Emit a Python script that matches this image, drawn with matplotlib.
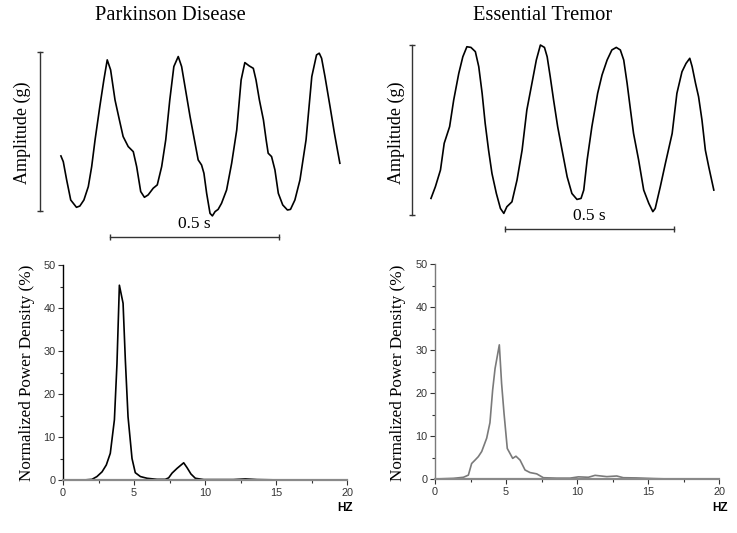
import matplotlib.pyplot as plt
from matplotlib.ticker import MultipleLocator

# tremor traces (time in s, amplitude normalised to the scale bar)
pd_t = [0.000, 0.007, 0.017, 0.029, 0.046, 0.056, 0.068, 0.081, 0.091, 0.101,
        0.115, 0.127, 0.137, 0.147, 0.160, 0.173, 0.184, 0.199, 0.214, 0.224,
        0.236, 0.247, 0.258, 0.273, 0.285, 0.298, 0.310, 0.322, 0.334, 0.347,
        0.357, 0.367, 0.382, 0.393, 0.406, 0.416, 0.423, 0.431, 0.441, 0.448,
        0.456, 0.465, 0.475, 0.490, 0.505, 0.520, 0.533, 0.544, 0.557, 0.569,
        0.577, 0.587, 0.599, 0.607, 0.613, 0.623, 0.633, 0.643, 0.656, 0.670,
        0.679, 0.692, 0.707, 0.725, 0.742, 0.756, 0.764, 0.771, 0.781, 0.796,
        0.809, 0.816, 0.825]
pd_amp = [0.346, 0.310, 0.195, 0.069, 0.023, 0.031, 0.069, 0.153, 0.279, 0.447,
          0.656, 0.824, 0.950, 0.887, 0.698, 0.572, 0.468, 0.405, 0.373, 0.279,
          0.122, 0.086, 0.101, 0.143, 0.164, 0.279, 0.447, 0.698, 0.908, 0.971,
          0.908, 0.782, 0.593, 0.468, 0.321, 0.289, 0.237, 0.111, -0.015, -0.031,
          -0.004, 0.010, 0.048, 0.132, 0.300, 0.509, 0.824, 0.933, 0.912, 0.897,
          0.824, 0.698, 0.572, 0.447, 0.363, 0.342, 0.258, 0.111, 0.038, 0.006,
          0.010, 0.069, 0.195, 0.447, 0.845, 0.981, 0.992, 0.960, 0.845, 0.656,
          0.488, 0.405, 0.300]

et_t = [0.000, 0.013, 0.028, 0.039, 0.055, 0.067, 0.082, 0.094, 0.106, 0.118,
        0.131, 0.141, 0.151, 0.160, 0.170, 0.180, 0.193, 0.205, 0.215, 0.224,
        0.239, 0.254, 0.269, 0.283, 0.298, 0.311, 0.323, 0.335, 0.343, 0.352,
        0.362, 0.374, 0.387, 0.402, 0.416, 0.431, 0.443, 0.451, 0.461, 0.475,
        0.492, 0.505, 0.520, 0.534, 0.547, 0.559, 0.569, 0.579, 0.589, 0.598,
        0.613, 0.628, 0.643, 0.655, 0.662, 0.677, 0.692, 0.712, 0.726, 0.741,
        0.753, 0.764, 0.771, 0.781, 0.790, 0.800, 0.810, 0.820, 0.835]
et_amp = [0.098, 0.167, 0.265, 0.422, 0.520, 0.676, 0.833, 0.931, 0.990, 0.986,
          0.961, 0.873, 0.716, 0.539, 0.382, 0.245, 0.127, 0.039, 0.010, 0.049,
          0.078, 0.206, 0.382, 0.618, 0.775, 0.912, 1.000, 0.986, 0.931, 0.814,
          0.676, 0.520, 0.382, 0.225, 0.127, 0.092, 0.098, 0.147, 0.324, 0.520,
          0.716, 0.824, 0.912, 0.971, 0.986, 0.971, 0.912, 0.775, 0.618, 0.480,
          0.324, 0.147, 0.069, 0.020, 0.039, 0.167, 0.304, 0.480, 0.716, 0.843,
          0.892, 0.922, 0.873, 0.775, 0.696, 0.559, 0.382, 0.284, 0.147]

# power spectra (Hz, %)
pd_hz = [0.0, 1.46, 2.04, 2.39, 2.75, 3.05, 3.33, 3.62, 3.80, 3.97, 4.23,
         4.39, 4.58, 4.86, 5.09, 5.45, 5.92, 6.62, 7.20, 7.44, 7.68, 8.03,
         8.50, 8.73, 9.01, 9.32, 9.91, 12.0, 12.84, 13.66, 15.5, 20.0]
pd_psd = [0.0, 0.0, 0.15, 0.8, 1.9, 3.5, 6.2, 14.0, 27.0, 45.3, 41.1,
          27.9, 14.7, 5.0, 1.7, 0.8, 0.4, 0.15, 0.15, 0.5, 1.6, 2.7,
          4.0, 2.9, 1.4, 0.4, 0.1, 0.1, 0.25, 0.1, 0.0, 0.0]

et_hz = [0.0, 1.29, 2.0, 2.35, 2.58, 2.82, 3.05, 3.29, 3.64, 3.87, 4.06,
         4.23, 4.53, 4.69, 4.86, 5.09, 5.47, 5.70, 5.99, 6.34, 6.69, 7.16,
         7.63, 8.57, 9.51, 10.1, 10.8, 11.27, 12.1, 12.8, 13.26, 14.2, 15.4,
         16.5, 20.0]
et_psd = [0.0, 0.15, 0.4, 0.9, 3.6, 4.4, 5.2, 6.4, 9.5, 13.1, 20.7,
          25.7, 31.2, 22.2, 15.3, 7.1, 4.8, 5.3, 4.4, 2.1, 1.5, 1.2,
          0.3, 0.2, 0.2, 0.5, 0.4, 0.85, 0.55, 0.7, 0.3, 0.25, 0.1,
          0.0, 0.0]

serif = 'Liberation Serif'
sans = 'Liberation Sans'

fig = plt.figure(figsize=(7.37, 5.33), dpi=100)


def trace_panel(rect, t, amp, xlim, ylim, vbar_x, hbar, hbar_y, title, title_x, lab_x):
    ax = fig.add_axes(rect)
    ax.plot(t, amp, color='black', lw=1.2)
    # amplitude scale bar
    ax.plot([vbar_x, vbar_x], [0, 1], color='#333333', lw=1.0)
    ax.plot([vbar_x, vbar_x], [0, 1], ls='none', marker='_', ms=5,
            mew=1.0, color='#333333')
    # time scale bar
    ax.plot(hbar, [hbar_y, hbar_y], color='#333333', lw=1.0)
    ax.plot(hbar, [hbar_y, hbar_y], ls='none', marker='|', ms=5,
            mew=1.0, color='#333333')
    ax.text(sum(hbar) / 2, hbar_y + 0.03, '0.5 s', ha='center', va='bottom',
            family=serif, fontsize=12.5)
    ax.set_xlim(xlim)
    ax.set_ylim(ylim)
    ax.axis('off')
    fig.text(title_x, 1 - 15 / 533, title, ha='center', va='center',
             family=serif, fontsize=14.8)
    fig.text(lab_x, 1 - 133 / 533, 'Amplitude (g)', rotation=90,
             ha='center', va='center', family=serif, fontsize=13)


def spectrum_panel(rect, hz, psd, color, spine_color, lab_x, hz_x):
    ax = fig.add_axes(rect)
    ax.plot(hz, psd, color=color, lw=1.2, zorder=2)
    ax.set_xlim(0, 20)
    ax.set_ylim(0, 50)
    ax.xaxis.set_major_locator(MultipleLocator(5))
    ax.xaxis.set_minor_locator(MultipleLocator(2.5))
    ax.yaxis.set_major_locator(MultipleLocator(10))
    ax.yaxis.set_minor_locator(MultipleLocator(5))
    for s in ['top', 'right']:
        ax.spines[s].set_visible(False)
    ax.spines['left'].set_color(spine_color)
    ax.spines['bottom'].set_color('#8a8a8a')
    ax.spines['bottom'].set_linewidth(1.6)
    ax.spines['left'].set_linewidth(1.0)
    for s in ['left', 'bottom']:
        ax.spines[s].set_zorder(3)
    ax.tick_params(which='major', length=3.5, width=0.8, colors='#333333',
                   labelsize=7.8, pad=2)
    ax.tick_params(which='minor', length=2, width=0.8, colors='#333333')
    for lab in ax.get_xticklabels() + ax.get_yticklabels():
        lab.set_family(sans)
    fig.text(lab_x, 1 - 373 / 533, 'Normalized Power Density (%)', rotation=90,
             ha='center', va='center', family=serif, fontsize=12.3)
    fig.text(hz_x, 1 - 508 / 533, 'HZ', ha='center', va='center',
             family=sans, fontweight='bold', fontsize=8.5)


trace_panel([20 / 737, 1 - 245 / 533, 330 / 737, 205 / 533], pd_t, pd_amp,
            (-0.121, 0.855), (-0.214, 1.075), -0.062, [0.145, 0.645], -0.164,
            'Parkinson Disease', 170 / 737, 22 / 737)
trace_panel([390 / 737, 1 - 245 / 533, 335 / 737, 210 / 533], et_t, et_amp,
            (-0.121, 0.868), (-0.176, 1.059), -0.057, [0.2185, 0.718], -0.082,
            'Essential Tremor', 543 / 737, 396 / 737)

spectrum_panel([63 / 737, 53 / 533, 284 / 737, 215 / 533], pd_hz, pd_psd,
               'black', 'black', 27 / 737, 345 / 737)
spectrum_panel([435 / 737, 54 / 533, 284 / 737, 215 / 533], et_hz, et_psd,
               '#7a7a7a', '#7a7a7a', 398 / 737, 720 / 737)

fig.savefig('out.png', dpi=100)
